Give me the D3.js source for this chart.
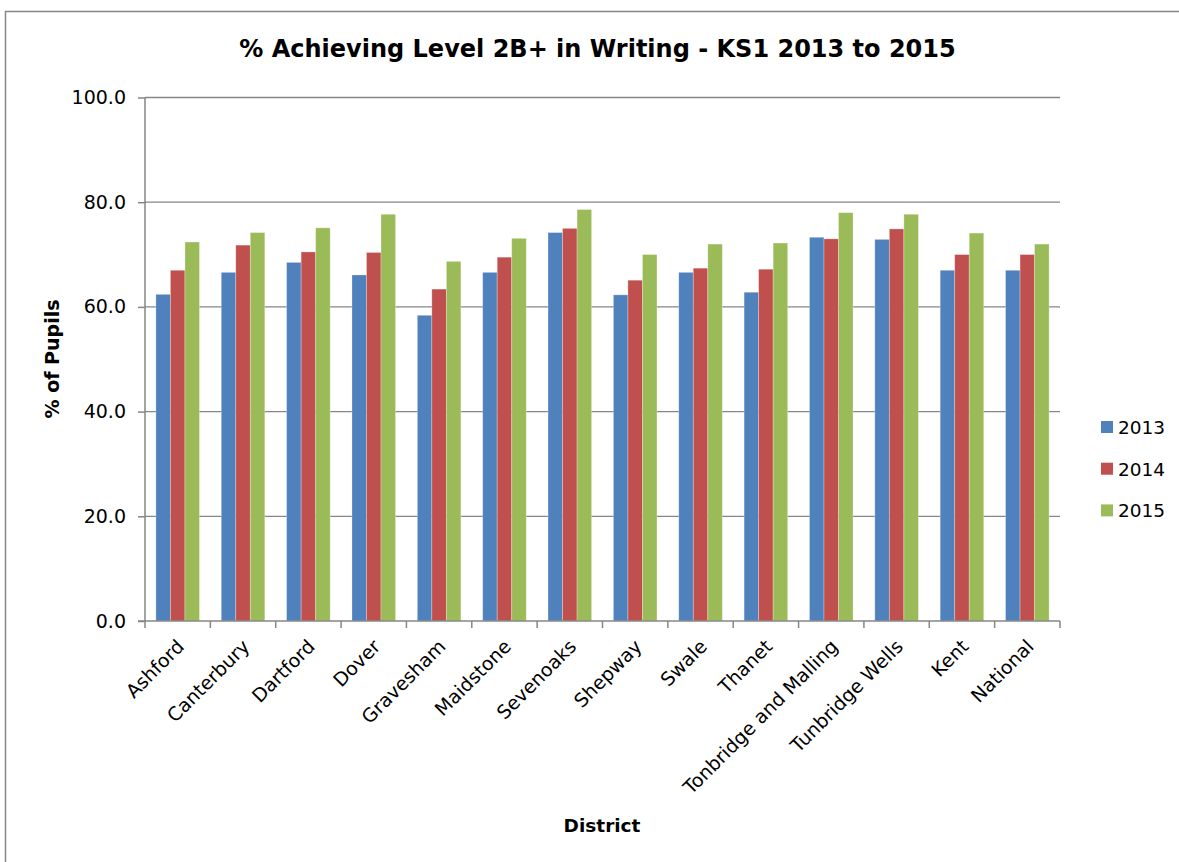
<!DOCTYPE html>
<html><head><meta charset="utf-8">
<script src="https://cdn.jsdelivr.net/npm/d3@7"></script>
<style>body{margin:0;background:#fff;}svg{display:block;}</style>
</head><body>
<svg id="chart" width="1179" height="862"></svg>
<script>
const categories = ["Ashford","Canterbury","Dartford","Dover","Gravesham","Maidstone","Sevenoaks","Shepway","Swale","Thanet","Tonbridge and Malling","Tunbridge Wells","Kent","National"];
const seriesNames = ["2013","2014","2015"];
const values2013 = [62.4,66.6,68.5,66.1,58.4,66.6,74.2,62.3,66.6,62.8,73.3,72.9,67.0,67.0];
const values2014 = [67.0,71.8,70.5,70.4,63.4,69.5,75.0,65.1,67.4,67.2,73.0,74.9,70.0,70.0];
const values2015 = [72.4,74.2,75.1,77.7,68.7,73.1,78.6,70.0,72.0,72.2,78.0,77.7,74.1,72.0];
const yTicks = [0,20,40,60,80,100];
const colors = ["#4F81BD","#C0504D","#9BBB59"];
const chartTitle = "% Achieving Level 2B+ in Writing - KS1 2013 to 2015";

const allValues = [values2013, values2014, values2015];
const svg = d3.select("#chart");
const font = "'DejaVu Sans', Verdana, sans-serif";
const pLeft = 145, pRight = 1060, pTop = 97.5, pBottom = 621;

// chart border
svg.append("rect").attr("x",5.5).attr("y",11.5).attr("width",1200).attr("height",900)
  .attr("fill","none").attr("stroke","#868686").attr("stroke-width",1.5);

const x = d3.scaleBand().domain(categories).range([pLeft,pRight]).padding(0);
const xs = d3.scaleBand().domain(seriesNames).range([0,x.bandwidth()]).paddingInner(0).paddingOuter(0.75);
const y = d3.scaleLinear().domain([0,100]).range([pBottom,pTop]);

// gridlines
svg.append("g").selectAll("line").data(yTicks.filter(d=>d>0)).join("line")
  .attr("x1",pLeft).attr("x2",pRight).attr("y1",d=>y(d)).attr("y2",d=>y(d))
  .attr("stroke","#868686").attr("stroke-width",1.3);

// bars
const groups = svg.append("g").selectAll("g").data(seriesNames).join("g")
  .attr("fill",(d,i)=>colors[i]);
groups.selectAll("rect").data((s,i)=>categories.map((c,j)=>({c, s, v: allValues[i][j]}))).join("rect")
  .attr("x",d=>x(d.c)+xs(d.s)).attr("width",xs.bandwidth())
  .attr("y",d=>y(d.v)).attr("height",d=>y(0)-y(d.v))
  .attr("stroke","rgba(255,255,255,0.35)").attr("stroke-width",0.8);

// y axis
const yAxis = d3.axisLeft(y).tickValues(yTicks).tickFormat(d3.format(".1f")).tickSize(7).tickPadding(12);
const gy = svg.append("g").attr("transform",`translate(${pLeft},0)`).call(yAxis);
gy.select(".domain").attr("stroke","#868686").attr("stroke-width",1.5).attr("d",`M0,${pBottom}V${pTop}`);
gy.selectAll(".tick line").attr("stroke","#868686").attr("stroke-width",1.5);
gy.selectAll(".tick text").attr("font-family",font).attr("font-size",19).attr("fill","#000");

// x axis line and boundary ticks
svg.append("line").attr("x1",pLeft-7).attr("x2",pRight).attr("y1",pBottom).attr("y2",pBottom)
  .attr("stroke","#868686").attr("stroke-width",1.5);
const bounds = categories.map(c=>x(c)).concat([pRight]);
svg.append("g").selectAll("line").data(bounds).join("line")
  .attr("x1",d=>d).attr("x2",d=>d).attr("y1",pBottom).attr("y2",pBottom+7)
  .attr("stroke","#868686").attr("stroke-width",1.5);

// x labels
svg.append("g").selectAll("text").data(categories).join("text")
  .attr("transform",d=>`translate(${x(d)+x.bandwidth()/2+3},${pBottom+22}) rotate(-45)`)
  .attr("text-anchor","end").attr("dy","0.35em")
  .attr("font-family",font).attr("font-size",19).attr("fill","#000").text(d=>d);

// title
svg.append("text").attr("x",597.5).attr("y",57).attr("text-anchor","middle")
  .attr("font-family",font).attr("font-weight","bold").attr("font-size",24).attr("fill","#000").text(chartTitle);

// axis titles
svg.append("text").attr("transform","translate(59,359) rotate(-90)").attr("text-anchor","middle")
  .attr("font-family",font).attr("font-weight","bold").attr("font-size",19).attr("fill","#000").text("% of Pupils");
svg.append("text").attr("x",602).attr("y",832).attr("text-anchor","middle")
  .attr("font-family",font).attr("font-weight","bold").attr("font-size",18.5).attr("fill","#000").text("District");

// legend
const lg = svg.append("g").selectAll("g").data(seriesNames).join("g")
  .attr("transform",(d,i)=>`translate(1101,${421+i*41.7})`);
lg.append("rect").attr("width",12).attr("height",12).attr("fill",(d,i)=>colors[i]);
lg.append("text").attr("x",17).attr("y",13).attr("font-family",font).attr("font-size",18.5).attr("fill","#000").text(d=>d);
</script>
</body></html>
